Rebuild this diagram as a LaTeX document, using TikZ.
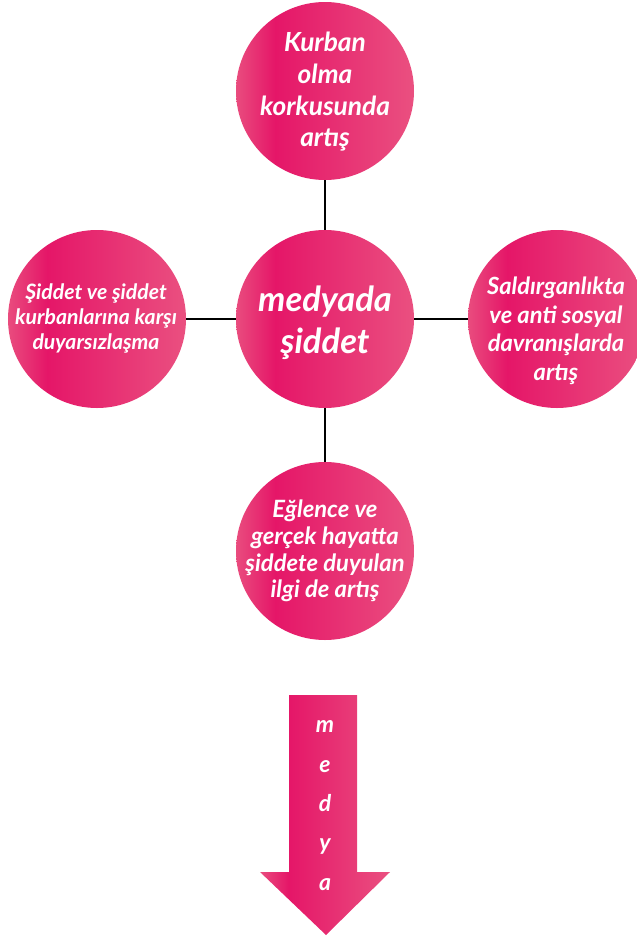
\documentclass[tikz,border=0pt]{standalone}
\usepackage{fontspec}
\setmainfont{Lato}
\definecolor{pkL}{RGB}{233,76,126}
\definecolor{pkD}{RGB}{229,22,104}
\definecolor{pkR}{RGB}{234,80,128}
\pgfdeclarehorizontalshading{pinkgrad}{100bp}{color(0bp)=(pkL); color(25bp)=(pkL); color(36bp)=(pkD); color(75bp)=(pkR); color(100bp)=(pkR)}
\tikzset{
  bubble/.style={circle, minimum size=178bp, inner sep=0pt, shading=pinkgrad},
  btext/.style={text=white, align=center, font=\bfseries\itshape, inner sep=0pt},
  link/.style={line width=2bp, black},
  letter/.style={text=white, font=\bfseries\itshape\fontsize{23bp}{26bp}\selectfont, inner sep=0pt, anchor=base}
}
\begin{document}
\begin{tikzpicture}[x=1bp,y=-1bp]
\useasboundingbox (0,0) rectangle (637,940);
\clip (0,0) rectangle (637,940);
% circles
\node[bubble] (top) at (325,91) {};
\node[bubble] (mid) at (325,319) {};
\node[bubble] (left) at (97,319) {};
\node[bubble] (right) at (557,319) {};
\node[bubble] (bot) at (325,551) {};
% connectors
\draw[link] (top) -- (mid);
\draw[link] (mid) -- (bot);
\draw[link] (left) -- (mid);
\draw[link] (mid) -- (right);
% texts
\node[btext, font=\bfseries\itshape\fontsize{26.3bp}{31.7bp}\selectfont] (ttop) at (325,92) {Kurban\\olma\\korkusunda\\artış};
\node[btext, font=\bfseries\itshape\fontsize{34.5bp}{42bp}\selectfont] (tmid) at (325,323) {medyada\\şiddet};
\node[btext, font=\bfseries\itshape\fontsize{21.2bp}{25bp}\selectfont] (tleft) at (96,319) {Şiddet ve şiddet\\kurbanlarına karşı\\duyarsızlaşma};
\node[btext, font=\bfseries\itshape\fontsize{23.7bp}{28.5bp}\selectfont] (tright) at (556,331) {Saldırganlıkta\\ve anti sosyal\\davranışlarda\\artış};
\node[btext, font=\bfseries\itshape\fontsize{23.8bp}{26.7bp}\selectfont] (tbot) at (325,551) {Eğlence ve\\gerçek hayatta\\şiddete duyulan\\ilgi de artış};
% arrow
\path[shading=pinkgrad] (289,695) -- (357,695) -- (357,872) -- (390,872) -- (326,935) -- (260,872) -- (289,872) -- cycle;
\node[letter] (l1) at (325,732) {m};
\node[letter] (l2) at (325,772) {e};
\node[letter] (l3) at (325,811) {d};
\node[letter] (l4) at (325,850) {y};
\node[letter] (l5) at (325,890) {a};
\end{tikzpicture}
\end{document}
